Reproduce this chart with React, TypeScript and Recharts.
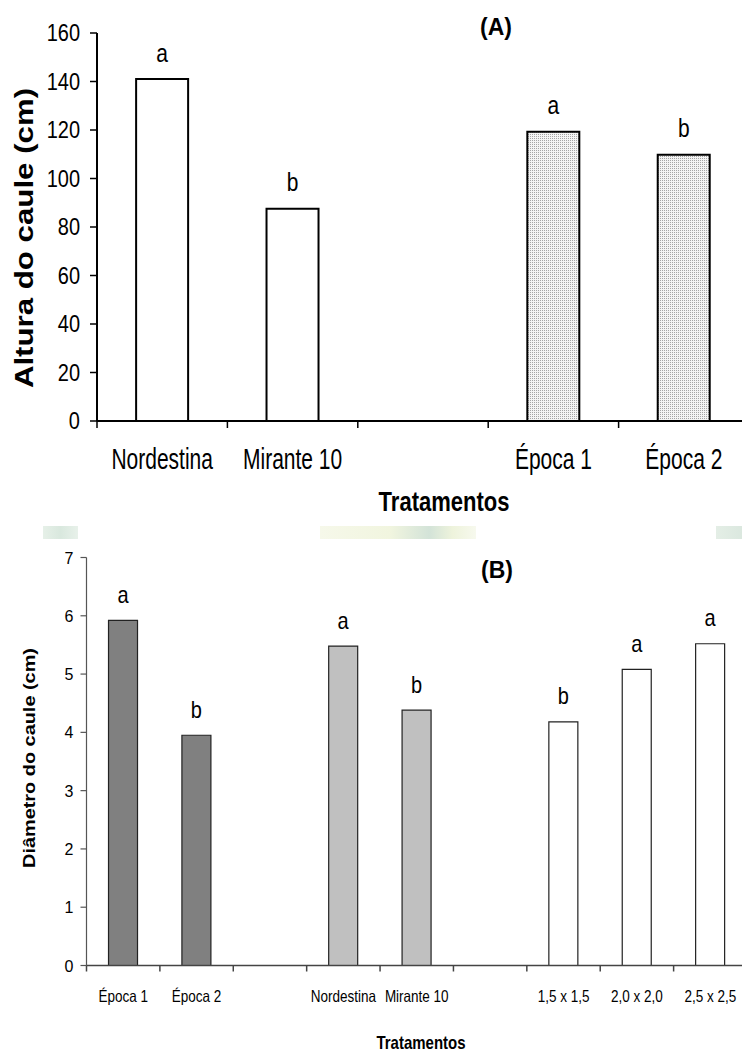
import React from 'react';
import { BarChart, Bar, XAxis, YAxis, Cell, LabelList } from 'recharts';

const FONT = "'Liberation Sans', Arial, Helvetica, sans-serif";

// (A) Altura do caule
const categoriesA = ['Nordestina', 'Mirante 10', '', 'Época 1', 'Época 2'];
const valuesA = [141, 87.5, null, 119.3, 109.8];
const lettersA = ['a', 'b', '', 'a', 'b'];
const ticksA = [0, 20, 40, 60, 80, 100, 120, 140, 160];

// (B) Diâmetro do caule
const categoriesB = ['Época 1', 'Época 2', '', 'Nordestina', 'Mirante 10', '', '1,5 x 1,5', '2,0 x 2,0', '2,5 x 2,5'];
const valuesB = [5.92, 3.95, null, 5.48, 4.38, null, 4.18, 5.08, 5.52];
const lettersB = ['a', 'b', '', 'a', 'b', '', 'b', 'a', 'a'];
const ticksB = [0, 1, 2, 3, 4, 5, 6, 7];

const fillsA = ['#ffffff', '#ffffff', '#ffffff', 'url(#dotsA)', 'url(#dotsA)'];
const fillsB = ['#808080', '#808080', '#ffffff', '#c0c0c0', '#c0c0c0', '#ffffff', '#ffffff', '#ffffff', '#ffffff'];

const dataA = categoriesA.map((name, i) => ({ key: `a${i}`, name, value: valuesA[i], letter: lettersA[i] }));
const dataB = categoriesB.map((name, i) => ({ key: `b${i}`, name, value: valuesB[i], letter: lettersB[i] }));

// plot widths (used for slot boundary ticks)
const BAND_A = (749 - 97) / categoriesA.length;
const BAND_B = (747 - 86.5) / categoriesB.length;

// text stretched vertically, like the scanned figure
const SText = ({ x, y, size, sy = 1.2, bold = false, anchor = 'middle', children }: any) => (
  <text
    transform={`translate(${x},${y}) scale(1,${sy})`}
    textAnchor={anchor}
    fontSize={size}
    fontWeight={bold ? 'bold' : 'normal'}
    fontFamily={FONT}
    fill="#000"
  >
    {children}
  </text>
);

const VText = ({ x, y, size, sx = 1.2, children }: any) => (
  <text
    transform={`translate(${x},${y}) rotate(-90) scale(${sx},1)`}
    textAnchor="middle"
    fontSize={size}
    fontWeight="bold"
    fontFamily={FONT}
    fill="#000"
  >
    {children}
  </text>
);

const xTick = (cats: string[], band: number, len: number, dy: number, size: number, sy: number, color: string) =>
  (props: any) => {
    const { x, y, index } = props;
    const left = x - band / 2;
    return (
      <g>
        <line x1={left} x2={left} y1={y} y2={y + len} stroke={color} strokeWidth={1.5} />
        <SText x={x} y={y + dy} size={size} sy={sy}>{cats[index]}</SText>
      </g>
    );
  };

const yTick = (size: number, sy: number) => (props: any) => {
  const { x, y, payload } = props;
  return (
    <SText x={x} y={y + (0.716 * size * sy) / 2} size={size} sy={sy} anchor="end">
      {payload.value}
    </SText>
  );
};

const letterLabel = (size: number, sy: number) => (props: any) => {
  const { x, y, width, value } = props;
  if (!value) return null;
  return (
    <SText x={Number(x) + Number(width) / 2} y={Number(y) - 17.5} size={size} sy={sy}>
      {value}
    </SText>
  );
};

const Patch = ({ left, top, width, height, bg }: any) => (
  <div style={{ position: 'absolute', left, top, width, height, background: bg }} />
);

export default function App() {
  return (
    <div style={{ position: 'absolute', left: 0, top: 0, width: 742, height: 1052, overflow: 'hidden', background: '#fff' }}>
      <Patch left={43} top={526} width={35} height={13} bg="linear-gradient(90deg,#e6f0e8,#d9e8de,#e8f1ea)" />
      <Patch left={320} top={526} width={156} height={13} bg="linear-gradient(90deg,#f6f8ea,#f1f5df 45%,#d3e3d8 70%,#eef3dc 85%,#f7f9ee)" />
      <Patch left={716} top={526} width={26} height={13} bg="linear-gradient(90deg,#e4eee6,#dbe8df)" />

      <div style={{ position: 'absolute', left: 0, top: 0 }}>
        <BarChart width={760} height={520} data={dataA} margin={{ top: 33, right: 11, bottom: 0, left: 0 }} barCategoryGap="30%">
          <defs>
            <pattern id="dotsA" width="2" height="2" patternUnits="userSpaceOnUse">
              <rect width="2" height="2" fill="#f3f3f3" />
              <rect width="1" height="1" fill="#a4a4a4" />
            </pattern>
          </defs>
          <XAxis
            dataKey="key"
            type="category"
            height={99}
            interval={0}
            tickSize={0}
            tickMargin={0}
            tickLine={false}
            axisLine={{ stroke: '#000', strokeWidth: 2 }}
            tick={xTick(categoriesA, BAND_A, 7, 48, 21, 1.4, '#000')}
          />
          <YAxis
            type="number"
            domain={[0, 160]}
            ticks={ticksA}
            interval={0}
            width={97}
            tickSize={7}
            tickMargin={10}
            axisLine={{ stroke: '#000', strokeWidth: 2 }}
            tickLine={{ stroke: '#000', strokeWidth: 1.5 }}
            tick={yTick(20, 1.17)}
          />
          <Bar dataKey="value" stroke="#000" strokeWidth={2} isAnimationActive={false}>
            {dataA.map((d, i) => (
              <Cell key={d.key} fill={fillsA[i]} />
            ))}
            <LabelList dataKey="letter" content={letterLabel(21, 1.2)} />
          </Bar>
        </BarChart>
      </div>

      <div style={{ position: 'absolute', left: 0, top: 520 }}>
        <BarChart width={757} height={532} data={dataB} margin={{ top: 37.5, right: 10, bottom: 0, left: 0 }} barCategoryGap="30%">
          <XAxis
            dataKey="key"
            type="category"
            height={86.5}
            interval={0}
            tickSize={0}
            tickMargin={0}
            tickLine={false}
            axisLine={{ stroke: '#444', strokeWidth: 1.5 }}
            tick={xTick(categoriesB, BAND_B, 6, 36.5, 13.5, 1.25, '#444')}
          />
          <YAxis
            type="number"
            domain={[0, 7]}
            ticks={ticksB}
            interval={0}
            width={86.5}
            tickSize={6}
            tickMargin={7}
            axisLine={{ stroke: '#555', strokeWidth: 1.2 }}
            tickLine={{ stroke: '#555', strokeWidth: 1.2 }}
            tick={yTick(16, 1.05)}
          />
          <Bar dataKey="value" stroke="#222" strokeWidth={1.2} isAnimationActive={false}>
            {dataB.map((d, i) => (
              <Cell key={d.key} fill={fillsB[i]} />
            ))}
            <LabelList dataKey="letter" content={letterLabel(20, 1.2)} />
          </Bar>
        </BarChart>
      </div>

      <svg width={742} height={1052} style={{ position: 'absolute', left: 0, top: 0, pointerEvents: 'none' }}>
        <SText x={496} y={35} size={23} sy={1.05} bold>(A)</SText>
        <VText x={33} y={238} size={25} sx={1.25}>Altura do caule (cm)</VText>
        <SText x={444} y={511} size={22} sy={1.25} bold>Tratamentos</SText>

        <SText x={497} y={578} size={23} sy={1.05} bold>(B)</SText>
        <VText x={35} y={758} size={17} sx={1.17}>Diâmetro do caule (cm)</VText>
        <SText x={421} y={1049} size={15} sy={1.2} bold>Tratamentos</SText>
      </svg>
    </div>
  );
}
